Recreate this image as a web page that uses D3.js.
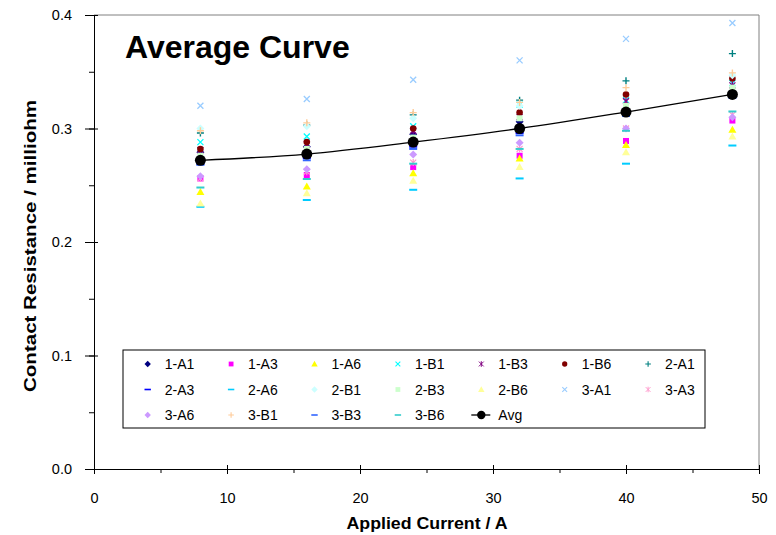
<!DOCTYPE html>
<html><head><meta charset="utf-8">
<script src="https://cdn.jsdelivr.net/npm/d3@7"></script>
<style>body{margin:0;background:#fff}svg{display:block;font-family:Arial,"Liberation Sans",sans-serif}</style>
</head><body><svg id="c" width="776" height="535"></svg>
<script>
const currents = [8, 16, 24, 32, 40, 48];
const seriesNames = ["1-A1","1-A3","1-A6","1-B1","1-B3","1-B6","2-A1","2-A3","2-A6","2-B1","2-B3","2-B6","3-A1","3-A3","3-A6","3-B1","3-B3","3-B6"];
const v_1A1 = [0.279, 0.284, 0.295, 0.306, 0.316, 0.330];
const v_1A3 = [0.256, 0.259, 0.266, 0.276, 0.289, 0.307];
const v_1A6 = [0.244, 0.249, 0.2605, 0.2735, 0.2855, 0.299];
const v_1B1 = [0.288, 0.293, 0.302, 0.321, 0.325, 0.340];
const v_1B3 = [0.281, 0.286, 0.298, 0.310, 0.324, 0.338];
const v_1B6 = [0.282, 0.288, 0.300, 0.314, 0.330, 0.344];
const v_2A1 = [0.296, 0.303, 0.312, 0.325, 0.342, 0.366];
const v_2A3 = [0.269, 0.274, 0.284, 0.296, 0.313, 0.329];
const v_2A6 = [0.231, 0.237, 0.246, 0.256, 0.269, 0.285];
const v_2B1 = [0.300, 0.302, 0.309, 0.320, 0.318, 0.347];
const v_2B3 = [0.276, 0.282, 0.292, 0.309, 0.320, 0.336];
const v_2B6 = [0.234, 0.243, 0.254, 0.266, 0.279, 0.293];
const v_3A1 = [0.320, 0.326, 0.343, 0.360, 0.379, 0.393];
const v_3A3 = [0.256, 0.262, 0.270, 0.282, 0.300, 0.312];
const v_3A6 = [0.258, 0.264, 0.277, 0.2875, 0.300, 0.310];
const v_3B1 = [0.298, 0.305, 0.314, 0.323, 0.336, 0.349];
const v_3B3 = [0.268, 0.272, 0.282, 0.294, 0.311, 0.327];
const v_3B6 = [0.248, 0.2555, 0.269, 0.282, 0.298, 0.315];
const avgValues = [0.272, 0.2775, 0.288, 0.300, 0.3145, 0.330];
const xTicks = [0, 10, 20, 30, 40, 50];
const yTicks = [0.0, 0.1, 0.2, 0.3, 0.4];

const seriesValues = [v_1A1,v_1A3,v_1A6,v_1B1,v_1B3,v_1B6,v_2A1,v_2A3,v_2A6,v_2B1,v_2B3,v_2B6,v_3A1,v_3A3,v_3A6,v_3B1,v_3B3,v_3B6];
const styles = [
 ["diamond","#000080"],["square","#FF00FF"],["triangle","#FFFF00"],["x","#00FFFF"],
 ["star","#800080"],["circle","#800000"],["plus","#008080"],["dash","#0000FF"],
 ["dash","#00CCFF"],["diamond","#CCFFFF"],["square","#CCFFCC"],["triangle","#FFFF99"],
 ["x","#99CCFF"],["star","#FF99CC"],["diamond","#CC99FF"],["plus","#FFCC99"],
 ["dash","#3366FF"],["dash","#33CCCC"]
];

const svg = d3.select("#c");
const x = d3.scaleLinear().domain([0,50]).range([94,759]);
const y = d3.scaleLinear().domain([0,0.4]).range([469,15]);

// frame (top/right gray)
svg.append("line").attr("x1",94).attr("x2",759).attr("y1",15).attr("y2",15).attr("stroke","#808080");
svg.append("line").attr("x1",759).attr("x2",759).attr("y1",15).attr("y2",469).attr("stroke","#808080");

// axes
const gx = svg.append("g").attr("transform","translate(0,469)");
gx.call(d3.axisBottom(x).tickValues(d3.range(0,51,5)).tickSize(4).tickFormat(""));
gx.call(g=>g.select(".domain").attr("stroke","#000"));
const gxm = svg.append("g").attr("transform","translate(0,465)");
gxm.call(d3.axisBottom(x).tickValues(xTicks).tickSize(9).tickFormat(""));
gxm.select(".domain").remove();
const gxl = svg.append("g").attr("transform","translate(0,469)");
gxl.call(d3.axisBottom(x).tickValues(xTicks).tickSize(0).tickPadding(24).tickFormat(d3.format("d")));
gxl.select(".domain").remove();
gxl.selectAll("text").attr("font-size",14.5).attr("fill","#000").attr("font-family","Arial, Liberation Sans, sans-serif");

const gy = svg.append("g").attr("transform","translate(94,0)");
gy.call(d3.axisLeft(y).tickValues(d3.range(0,0.401,0.05)).tickSize(5).tickFormat(""));
gy.select(".domain").attr("stroke","#000");
const gym = svg.append("g").attr("transform","translate(98,0)");
gym.call(d3.axisLeft(y).tickValues(yTicks).tickSize(13).tickFormat(""));
gym.select(".domain").remove();
const gyl = svg.append("g").attr("transform","translate(94,0)");
gyl.call(d3.axisLeft(y).tickValues(yTicks).tickSize(0).tickPadding(22).tickFormat(d3.format(".1f")));
gyl.select(".domain").remove();
gyl.selectAll("text").attr("font-size",14.5).attr("fill","#000").attr("font-family","Arial, Liberation Sans, sans-serif");
svg.selectAll(".tick line").attr("stroke","#000");

// titles
svg.append("text").attr("x",125).attr("y",58).attr("font-size",32).attr("font-weight","bold").text("Average Curve");
svg.append("text").attr("x",427).attr("y",529).attr("text-anchor","middle").attr("font-size",16).attr("font-weight","bold")
  .attr("textLength",161).attr("lengthAdjust","spacingAndGlyphs").text("Applied Current / A");
svg.append("text").attr("transform","translate(36,246) rotate(-90)").attr("text-anchor","middle").attr("font-size",17).attr("font-weight","bold")
  .attr("textLength",292).attr("lengthAdjust","spacingAndGlyphs").text("Contact Resistance / milliohm");

function drawMarker(g, shape, color, cx, cy, k){
  k = k || 1;
  const s = g.append("g").attr("transform",`translate(${cx},${cy}) scale(${k})`);
  switch(shape){
    case "diamond": s.append("path").attr("d","M0,-4L4,0L0,4L-4,0Z").attr("fill",color); break;
    case "square": s.append("rect").attr("x",-3).attr("y",-3).attr("width",6).attr("height",6).attr("fill",color); break;
    case "triangle": s.append("path").attr("d","M0,-4L4,3L-4,3Z").attr("fill",color); break;
    case "x": s.append("path").attr("d","M-3,-3L3,3M-3,3L3,-3").attr("stroke",color).attr("stroke-width",1.3); break;
    case "star": s.append("path").attr("d","M-3,-3L3,3M-3,3L3,-3M0,-3.5L0,3.5").attr("stroke",color).attr("stroke-width",1.2); break;
    case "circle": s.append("circle").attr("r",3.3).attr("fill",color); break;
    case "plus": s.append("path").attr("d","M-3.5,0L3.5,0M0,-3.5L0,3.5").attr("stroke",color).attr("stroke-width",1.4); break;
    case "dash": s.append("rect").attr("x",-4).attr("y",-1).attr("width",8).attr("height",2).attr("fill",color); break;
  }
}

// series
const plot = svg.append("g");
seriesValues.forEach((vals,i)=>{
  const g = plot.append("g").attr("class","series");
  vals.forEach((v,j)=>drawMarker(g, styles[i][0], styles[i][1], x(currents[j]), y(v)));
});

// avg curve
const line = d3.line().x((d,i)=>x(currents[i])).y(d=>y(d)).curve(d3.curveCatmullRom.alpha(0.5));
svg.append("path").datum(avgValues).attr("d",line).attr("fill","none").attr("stroke","#000").attr("stroke-width",1.3);
svg.append("g").selectAll("circle").data(avgValues).join("circle")
  .attr("cx",(d,i)=>x(currents[i])).attr("cy",d=>y(d)).attr("r",5.5).attr("fill","#000");

// legend
const lg = svg.append("g");
lg.append("rect").attr("x",123).attr("y",350).attr("width",582).attr("height",78).attr("fill","#fff").attr("stroke","#000").attr("stroke-width",1);
const legendNames = seriesNames.concat(["Avg"]);
legendNames.forEach((n,i)=>{
  const r = Math.floor(i/7), c = i%7;
  const mx = 147.7 + c*83.4, my = 364 + r*25.5;
  if(n==="Avg"){
    lg.append("line").attr("x1",mx-10).attr("x2",mx+9).attr("y1",my).attr("y2",my).attr("stroke","#000").attr("stroke-width",1.3);
    lg.append("circle").attr("cx",mx).attr("cy",my).attr("r",4.2).attr("fill","#000");
  } else {
    drawMarker(lg, styles[i][0], styles[i][1], mx, my, 0.8);
  }
  lg.append("text").attr("x",mx+17).attr("y",my+5).attr("font-size",14).text(n);
});
</script></body></html>
